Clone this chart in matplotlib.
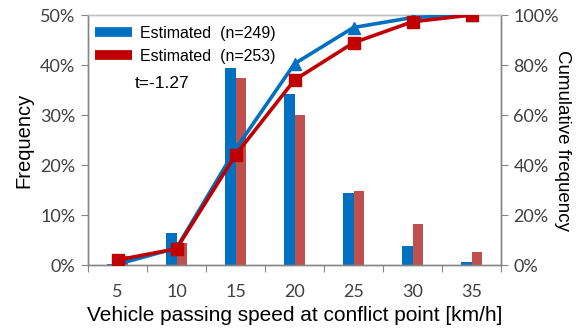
import numpy as np
import matplotlib

matplotlib.use("Agg")
import matplotlib.pyplot as plt
from matplotlib.lines import Line2D

# data
speeds = ["5", "10", "15", "20", "25", "30", "35"]
freq_a = [0.3, 6.5, 39.5, 34.2, 14.5, 3.9, 0.6]      # n=249, percent
freq_b = [1.8, 4.5, 37.4, 30.0, 14.9, 8.3, 2.6]      # n=253, percent
cum_a = [0.3, 6.8, 46.3, 80.5, 95.0, 99.0, 100.0]
cum_b = [2.0, 6.5, 44.0, 74.0, 88.9, 97.3, 100.0]
labels = ["Estimated  (n=249)", "Estimated  (n=253)"]
t_text = "t=-1.27"

BLUE = "#0070C0"
RED_LINE = "#C00000"
RED_BAR = "#C0504D"
AXIS = "#868686"
TICK_TXT = "#404040"

fig = plt.figure(figsize=(5.81, 3.31), dpi=100)
ax = fig.add_axes([88 / 581, 66 / 331, 413 / 581, 250 / 331])
ax2 = ax.twinx()

x = np.arange(len(speeds))
bw = 0.17
ax.bar(x - bw / 2, freq_a, width=bw, color=BLUE, zorder=2)
ax.bar(x + bw / 2, freq_b, width=bw, color=RED_BAR, zorder=2)

ax2.plot(x, cum_a, color=BLUE, lw=2.6, marker="^", ms=9, zorder=3)
ax2.plot(x, cum_b, color=RED_LINE, lw=2.6, marker="s", ms=8, zorder=4)

ax.set_xlim(-0.5, len(speeds) - 0.5)
ax.set_ylim(0, 50)
ax2.set_ylim(0, 100)

ax.set_yticks(np.arange(0, 51, 10))
ax.set_yticklabels([f"{v}%" for v in range(0, 51, 10)])
ax2.set_yticks(np.arange(0, 101, 20))
ax2.set_yticklabels([f"{v}%" for v in range(0, 101, 20)])

# category boundaries as ticks, labels at the centres
ax.set_xticks(np.arange(-0.5, len(speeds), 1.0))
ax.set_xticklabels([])
ax.set_xticks(x, minor=True)
ax.set_xticklabels(speeds, minor=True)
ax.tick_params(axis="x", which="major", length=5, color=AXIS, direction="out")
ax.tick_params(axis="x", which="minor", length=0, pad=14)

for a in (ax, ax2):
    for s in a.spines.values():
        s.set_color(AXIS)
        s.set_linewidth(1.0)
    a.tick_params(axis="y", length=5, color=AXIS, direction="out", pad=4)
    a.tick_params(which="both", labelsize=13, labelcolor=TICK_TXT)
    for lab in a.get_yticklabels() + a.get_xticklabels(minor=True):
        lab.set_fontfamily("Lato")
ax2.spines["top"].set_color("#BFBFBF")
ax.spines["top"].set_color("#BFBFBF")

ax.set_ylabel("Frequency", fontsize=14.5, family="Liberation Sans", labelpad=5)
# right label reads top to bottom, placed by hand so it stays inside the figure
fig.text(563 / 581, 1 - 140 / 331, "Cumulative frequency", rotation=270,
         ha="center", va="center", fontsize=13.5, family="Liberation Sans")
ax.set_xlabel("Vehicle passing speed at conflict point [km/h]", fontsize=15,
              family="Liberation Sans", labelpad=4)

handles = [
    Line2D([], [], color=BLUE, lw=7, solid_capstyle="butt"),
    Line2D([], [], color=RED_LINE, lw=7, solid_capstyle="butt"),
]
leg = ax2.legend(handles, labels, loc="upper left", bbox_to_anchor=(-0.017, 1.015),
                 frameon=False, handlelength=2.3, handletextpad=0.5,
                 labelspacing=0.5, prop={"family": "Liberation Sans", "size": 11.5})
ax2.text(0.114, 0.728, t_text, transform=ax2.transAxes, fontsize=12.5,
         family="Liberation Sans", va="center")

fig.savefig("out.png", dpi=100)
